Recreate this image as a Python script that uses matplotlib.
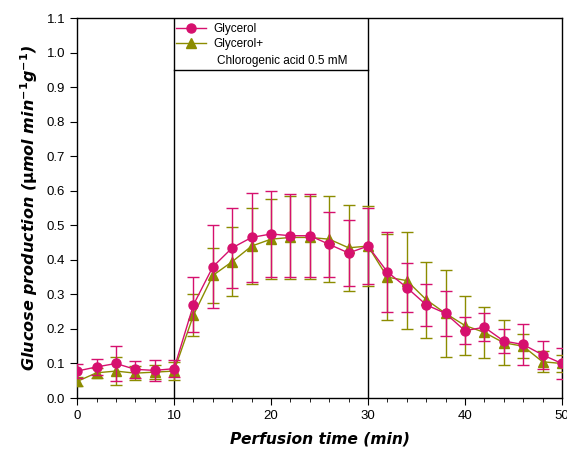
import matplotlib
matplotlib.use("Agg")
import matplotlib.pyplot as plt
from matplotlib.ticker import MultipleLocator
from matplotlib.lines import Line2D

plt.rcParams['font.family'] = ['Liberation Sans', 'DejaVu Sans']

# perfusion time, every 2 min
time_min = [0, 2, 4, 6, 8, 10, 12, 14, 16, 18, 20, 22, 24, 26, 28, 30,
            32, 34, 36, 38, 40, 42, 44, 46, 48, 50]

glycerol = [0.078, 0.09, 0.10, 0.083, 0.08, 0.085, 0.27, 0.38, 0.435, 0.465,
            0.475, 0.47, 0.47, 0.445, 0.42, 0.44, 0.365, 0.32, 0.27, 0.245,
            0.195, 0.205, 0.165, 0.155, 0.125, 0.10]
glycerol_err = [0.02, 0.022, 0.05, 0.025, 0.03, 0.025, 0.08, 0.12, 0.115, 0.13,
                0.125, 0.12, 0.12, 0.095, 0.095, 0.11, 0.115, 0.07, 0.06, 0.065,
                0.04, 0.04, 0.035, 0.06, 0.04, 0.045]

glycerol_cga = [0.048, 0.073, 0.078, 0.072, 0.075, 0.078, 0.24, 0.355, 0.395, 0.44,
                0.46, 0.465, 0.465, 0.46, 0.435, 0.44, 0.35, 0.34, 0.285, 0.245,
                0.21, 0.19, 0.16, 0.15, 0.105, 0.10]
glycerol_cga_err = [0.012, 0.015, 0.04, 0.02, 0.02, 0.025, 0.06, 0.08, 0.10, 0.11,
                    0.115, 0.12, 0.12, 0.125, 0.125, 0.115, 0.125, 0.14, 0.11, 0.125,
                    0.085, 0.075, 0.065, 0.035, 0.03, 0.025]

pink = '#d6106e'
olive = '#8c8c00'

fig = plt.figure(figsize=(5.67, 4.54), dpi=100)
ax = fig.add_axes([0.136, 0.1233, 0.855, 0.8367])

ax.errorbar(time_min, glycerol_cga, yerr=glycerol_cga_err, color=olive,
            marker='^', markersize=6.5, lw=1, elinewidth=1, capsize=4,
            capthick=1, zorder=3)
ax.errorbar(time_min, glycerol, yerr=glycerol_err, color=pink,
            marker='o', markersize=6.5, lw=1, elinewidth=1, capsize=4,
            capthick=1, zorder=4)

# stimulus window marks
ax.axvline(10, color='black', lw=1, zorder=1)
ax.axvline(30, color='black', lw=1, zorder=1)
ax.plot([10, 30], [0.95, 0.95], color='black', lw=1, zorder=1)

ax.set_xlim(0, 50)
ax.set_ylim(0, 1.1)
ax.xaxis.set_major_locator(MultipleLocator(10))
ax.xaxis.set_minor_locator(MultipleLocator(2))
ax.yaxis.set_major_locator(MultipleLocator(0.1))
ax.yaxis.set_major_formatter(plt.FormatStrFormatter('%.1f'))
ax.tick_params(axis='both', which='major', length=5, labelsize=9.5, direction='out')
ax.tick_params(axis='x', which='minor', length=3, direction='out')
for sp in ax.spines.values():
    sp.set_linewidth(1)

ax.set_xlabel('Perfusion time (min)', fontsize=11.2, fontweight='bold',
              fontstyle='italic', family='DejaVu Sans', labelpad=7)
ax.set_ylabel(r'Glucose production ($\mathbf{\mu}$mol min$^{\mathbf{-1}}$g$^{\mathbf{-1}}$)',
              fontsize=11.5, fontweight='bold', fontstyle='italic',
              family='DejaVu Sans', labelpad=5)

handles = [Line2D([], [], color=pink, marker='o', markersize=6.5, lw=1),
           Line2D([], [], color=olive, marker='^', markersize=6.5, lw=1)]
ax.legend(handles, ['Glycerol', 'Glycerol+'], loc='upper left',
          bbox_to_anchor=(9.6 / 50, 1.0), frameon=False, fontsize=8.5,
          handlelength=2.6, borderaxespad=0.05, labelspacing=0.25,
          handletextpad=0.6)
ax.text(14.45, 0.977, 'Chlorogenic acid 0.5 mM', fontsize=8.5, ha='left',
        va='center')

fig.savefig('out.png', dpi=100)
